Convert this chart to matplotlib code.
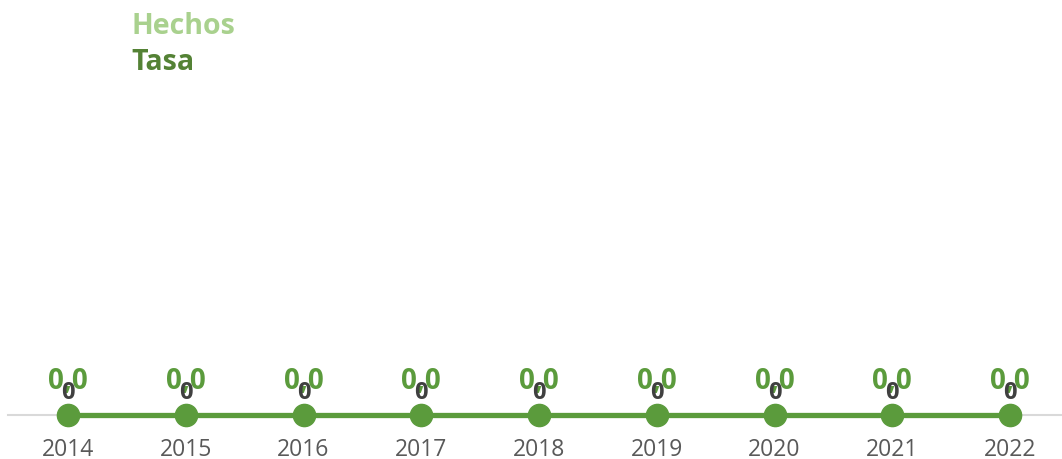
import matplotlib.pyplot as plt

years = [2014, 2015, 2016, 2017, 2018, 2019, 2020, 2021, 2022]
hechos = [0, 0, 0, 0, 0, 0, 0, 0, 0]
tasa = [0.0, 0.0, 0.0, 0.0, 0.0, 0.0, 0.0, 0.0, 0.0]

line_green = '#5b9b3c'
light_green = '#a9d18e'
dark_green = '#548235'
label_gray = '#595959'

plt.rcParams['font.family'] = ['Open Sans', 'DejaVu Sans']

fig = plt.figure(figsize=(10.62, 4.6), dpi=100)
ax = fig.add_axes([0, 44 / 460, 1, 416 / 460])

# px -> data mapping: 2014 at x=68px, 2022 at x=1010px
ppu = (1010 - 68) / 8
ax.set_xlim(2014 - 68 / ppu, 2014 + (1062 - 68) / ppu)
ax.set_ylim(0, 416)

# baseline
ax.axhline(0, xmin=8 / 1062, xmax=1, color='#d9d9d9', lw=1.5, zorder=1,
           clip_on=False)

# Hechos bars (all zero)
ax.bar(years, hechos, width=0.5, color=light_green, zorder=2)

# Tasa line
ax.plot(years, tasa, color=line_green, lw=3.8, marker='o', markersize=16,
        zorder=3, clip_on=False)

for x, h, t in zip(years, hechos, tasa):
    ax.text(x, 20, f'{t:.1f}'.replace('.', ','), ha='center', va='bottom',
            fontsize=20, fontweight='bold', color=line_green, zorder=4)
    ax.text(x, 11, str(h), ha='center', va='bottom', fontsize=17,
            fontweight='bold', color='#404040', zorder=5)

for x in years:
    ax.text(x, -22, str(x), ha='center', va='top', fontsize=16.5,
            color=label_gray, clip_on=False)

# legend as text
fig.text(131 / 1062, 1 - 27 / 460, 'Hechos', ha='left', va='center',
         fontsize=20.5, fontweight='bold', color=light_green)
fig.text(131 / 1062, 1 - 63 / 460, 'Tasa', ha='left', va='center',
         fontsize=20.5, fontweight='bold', color=dark_green)

ax.axis('off')
fig.savefig('out.png', dpi=100)
